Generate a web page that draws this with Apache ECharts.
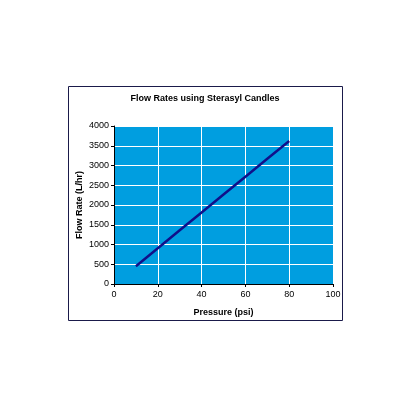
<!DOCTYPE html>
<html>
<head>
<meta charset="utf-8">
<script src="https://cdn.jsdelivr.net/npm/echarts@6/dist/echarts.min.js"></script>
<style>
	html, body { margin: 0; padding: 0; background: #fff; }
	#chart { width: 410px; height: 410px; }
</style>
</head>
<body>
<div id="chart"></div>
<script>
// pressure (psi) and flow rate (L/hr)
var pressure = [10, 20, 30, 40, 50, 60, 70, 80]
var flowRate = [450, 905, 1360, 1810, 2265, 2715, 3170, 3620]

var chart = echarts.init(document.getElementById('chart'))

var points = pressure.map(function (p, i) { return [p, flowRate[i]] })

chart.setOption({
	animation: false,
	title: {
		text: 'Flow Rates using Sterasyl Candles',
		left: 'center',
		top: 89,
		textStyle: {
			fontFamily: 'Liberation Sans, Arial',
			fontSize: 9,
			fontWeight: 'bold',
			color: '#000'
		}
	},
	graphic: [{
		type: 'rect',
		shape: { x: 68.5, y: 86.5, width: 274, height: 234 },
		style: { fill: 'none', stroke: '#1a1a4a', lineWidth: 1 },
		z: -1
	}],
	grid: {
		left: 114,
		right: 77,
		top: 126,
		bottom: 126,
		show: true,
		backgroundColor: '#009ee0',
		borderWidth: 0
	},
	xAxis: {
		type: 'value',
		min: 0,
		max: 100,
		interval: 20,
		name: 'Pressure (psi)',
		nameLocation: 'middle',
		nameGap: 24,
		nameMoveOverlap: false,
		nameTextStyle: {
			fontFamily: 'Liberation Sans, Arial',
			fontSize: 9,
			fontWeight: 'bold',
			color: '#000'
		},
		axisLine: { show: true, lineStyle: { color: '#000', width: 1 } },
		axisTick: { show: true, length: 3, lineStyle: { color: '#000' } },
		axisLabel: {
			fontFamily: 'Liberation Sans, Arial',
			fontSize: 9,
			color: '#000',
			margin: 6
		},
		splitLine: { show: true, lineStyle: { color: '#fff', width: 1 } }
	},
	yAxis: {
		type: 'value',
		min: 0,
		max: 4000,
		interval: 500,
		name: 'Flow Rate (L/hr)',
		nameLocation: 'middle',
		nameGap: 30,
		nameMoveOverlap: false,
		nameTextStyle: {
			fontFamily: 'Liberation Sans, Arial',
			fontSize: 9,
			fontWeight: 'bold',
			color: '#000'
		},
		axisLine: { show: true, lineStyle: { color: '#000', width: 1 } },
		axisTick: { show: true, length: 3, lineStyle: { color: '#000' } },
		axisLabel: {
			fontFamily: 'Liberation Sans, Arial',
			fontSize: 9,
			color: '#000',
			margin: 5,
			formatter: function (value) {
				return String(value)
			}
		},
		splitLine: { show: true, lineStyle: { color: '#fff', width: 1 } }
	},
	series: [{
		type: 'line',
		data: points,
		showSymbol: false,
		lineStyle: { color: '#10108a', width: 2.5 }
	}]
})
</script>
</body>
</html>
